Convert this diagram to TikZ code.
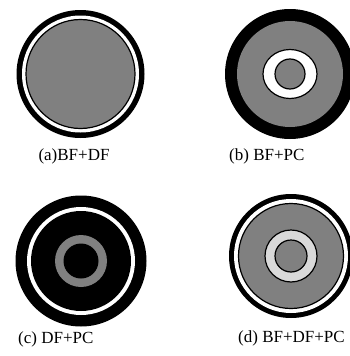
\documentclass[tikz,border=0pt]{standalone}
\usepackage{fontspec}
\setmainfont{Liberation Serif}
\definecolor{midgray}{RGB}{128,128,128}
\definecolor{palegray}{RGB}{217,217,217}
\tikzset{
  lbl/.style={inner sep=0pt, anchor=base west, font=\fontsize{17}{20}\selectfont},
  edge/.style={line width=1.2pt, draw=black}
}
\begin{document}
\begin{tikzpicture}[x=1pt,y=-1pt]
\useasboundingbox (0,0) rectangle (350,356);
% (a)
\coordinate (ca) at (80.5,74);
\fill[black] (ca) circle[radius=64pt];
\fill[white] (ca) circle[radius=58.5pt];
\filldraw[fill=midgray, edge] (ca) circle[radius=54.5pt];
\node[lbl, anchor=base] (la) at (74,160) {(a)BF+DF};
% (b)
\coordinate (cb) at (290,74);
\fill[black] (cb) circle[radius=65pt];
\fill[midgray] (cb) circle[radius=53pt];
\filldraw[fill=white, edge] (cb) ellipse[x radius=27pt, y radius=24.5pt];
\filldraw[fill=midgray, edge] (cb) circle[radius=15pt];
\node[lbl] (lb) at (229,160) {(b) BF+PC};
% (c)
\coordinate (cc) at (81,261);
\fill[black] (cc) circle[radius=65.5pt];
\fill[white] (cc) circle[radius=54pt];
\fill[black] (cc) circle[radius=50pt];
\fill[midgray] (cc) circle[radius=26pt];
\fill[black] (cc) circle[radius=17.5pt];
\node[lbl] (lc) at (18,343) {(c) DF+PC};
% (d)
\coordinate (cd) at (291,256);
\fill[black] (cd) circle[radius=62pt];
\fill[white] (cd) circle[radius=57pt];
\filldraw[fill=midgray, edge] (cd) circle[radius=52.5pt];
\filldraw[fill=palegray, edge] (cd) circle[radius=26pt];
\filldraw[fill=midgray, edge] (cd) circle[radius=16pt];
\node[lbl] (ld) at (238,342) {(d) BF+DF+PC};
\end{tikzpicture}
\end{document}
